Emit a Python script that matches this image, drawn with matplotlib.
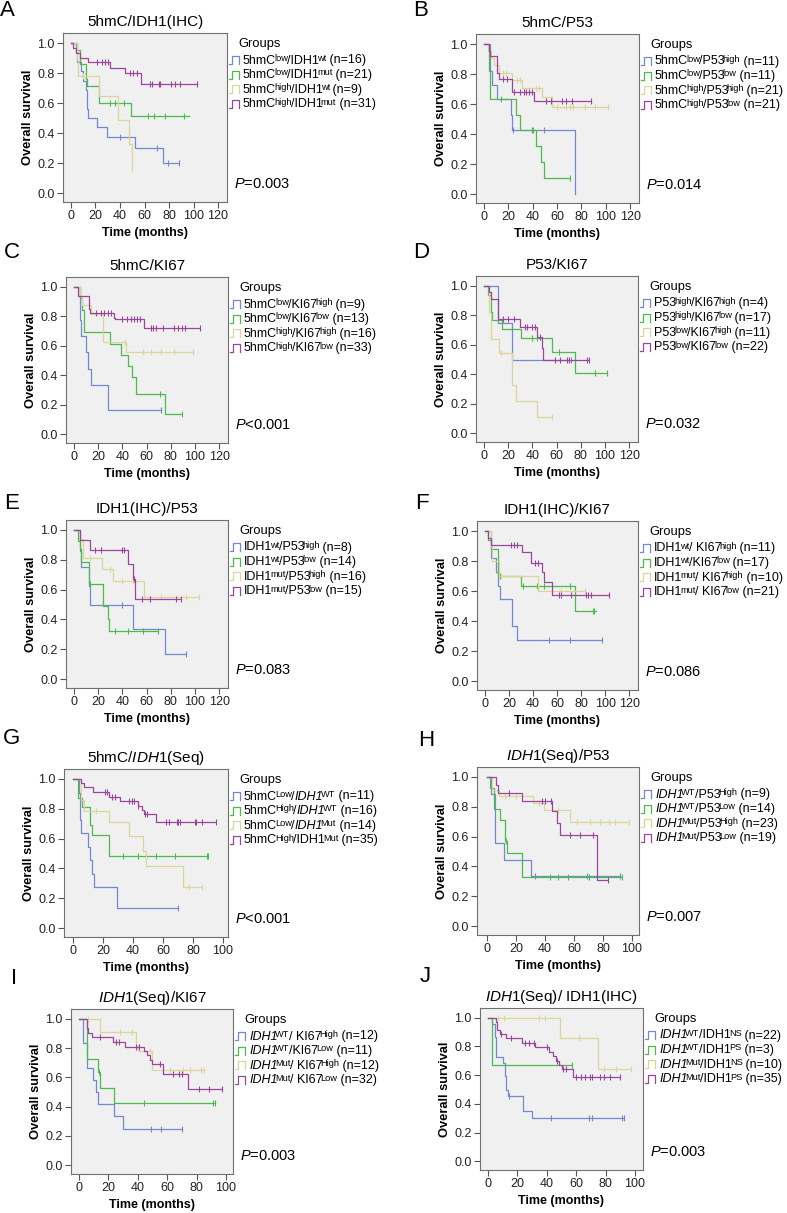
import matplotlib
matplotlib.use('Agg')
import matplotlib.pyplot as plt
from matplotlib.lines import Line2D

plt.rcParams['font.family'] = ['Liberation Sans', 'DejaVu Sans']
plt.rcParams['mathtext.fontset'] = 'custom'
plt.rcParams['mathtext.rm'] = 'Liberation Sans'
plt.rcParams['mathtext.it'] = 'Liberation Sans:italic'
plt.rcParams['mathtext.bf'] = 'Liberation Sans:bold'

W, H = 787, 1213
colors = ['#7389cf', '#4dba4d', '#dcd59a', '#9a469a']

# ---- data: event times (t), survival after each event (s), censor times (c), end of follow-up
A_t = [[4, 5, 8, 9.5, 12, 13, 14, 21, 29, 52, 75],
       [5, 7, 12, 13, 23, 49],
       [5, 6, 23, 38, 47, 50],
       [2, 4, 7.5, 14, 32, 44, 57.5]]
A_s = [[0.938, 0.875, 0.813, 0.75, 0.688, 0.563, 0.5, 0.438, 0.375, 0.30, 0.20],
       [0.952, 0.857, 0.762, 0.714, 0.60, 0.514],
       [0.889, 0.778, 0.648, 0.486, 0.324, 0.162],
       [0.968, 0.935, 0.903, 0.871, 0.835, 0.80, 0.73]]
A_c = [[40, 70, 79, 88],
       [32, 36, 43, 63, 68, 77, 92],
       [10, 50],
       [21, 25, 28, 30.5, 48, 51, 54, 64.5, 66, 72, 72.7, 82, 85, 89, 103]]
A_end = [88, 96, 50, 103]

B_t = [[5, 7, 11, 22, 23, 75],
       [4, 5, 26, 30, 43, 47, 49],
       [3, 6, 8, 12, 23, 31, 48, 56],
       [4, 5, 11, 12, 23, 41]]
B_s = [[0.818, 0.727, 0.636, 0.53, 0.424, 0.0],
       [0.818, 0.636, 0.53, 0.424, 0.318, 0.212, 0.106],
       [0.952, 0.905, 0.857, 0.81, 0.76, 0.71, 0.645, 0.58],
       [0.952, 0.92, 0.81, 0.77, 0.68, 0.62]]
B_c = [[23.6, 39.4, 49],
       [14, 40, 71],
       [16, 18, 27, 30, 43, 45, 60, 67, 71, 73, 83, 91, 102],
       [16, 19, 24.5, 30, 33, 34.5, 37, 39.5, 51, 55, 64, 67, 72, 88]]
B_end = [75, 71, 102, 88]

C_t = [[5, 6, 10, 12, 14, 28],
       [5, 6.5, 8, 30, 39, 45, 48, 51, 75],
       [5, 7, 14, 24, 43],
       [3.3, 12.8, 13.5, 33, 34, 57.6]]
C_s = [[0.778, 0.667, 0.556, 0.444, 0.333, 0.167],
       [0.923, 0.846, 0.692, 0.615, 0.538, 0.462, 0.385, 0.27, 0.135],
       [0.938, 0.875, 0.813, 0.625, 0.556],
       [0.94, 0.85, 0.82, 0.79, 0.78, 0.72]]
C_c = [[72],
       [71, 89],
       [42, 57, 64, 72, 83, 98],
       [18, 22, 25, 28, 30.4, 40, 44, 47, 49.5, 52, 55, 64, 65.5, 68, 74, 83, 86, 89, 91.5, 104]]
C_end = [72, 89, 98, 104]

D_t = [[12, 23],
       [3, 5.5, 7, 15, 31, 56, 75],
       [4, 5.5, 12.3, 23, 26.7, 43.7],
       [4, 5.5, 12, 30, 43.7, 47.8, 49]]
D_s = [[0.75, 0.5],
       [0.941, 0.824, 0.765, 0.706, 0.647, 0.55, 0.41],
       [0.818, 0.636, 0.545, 0.327, 0.218, 0.109],
       [0.955, 0.909, 0.773, 0.72, 0.65, 0.58, 0.50]]
D_c = [[72],
       [40, 44, 62, 92, 102],
       [14, 56],
       [16, 20, 24.6, 34, 35.5, 40, 42, 46, 59, 63, 68.5, 70, 85, 87]]
D_end = [72, 102, 56, 87]

E_t = [[5.4, 6.3, 12.5, 13.6, 49, 75.5],
       [3.3, 5.4, 6, 12.3, 24, 27.8, 29.4],
       [5.4, 7.6, 23, 32, 57.8],
       [5.4, 13.6, 45, 48.5, 50.4]]
E_s = [[0.875, 0.75, 0.625, 0.5, 0.333, 0.167],
       [0.929, 0.857, 0.786, 0.637, 0.49, 0.40, 0.32],
       [0.938, 0.81, 0.74, 0.66, 0.55],
       [0.933, 0.867, 0.77, 0.67, 0.54]]
E_c = [[40, 93],
       [13, 34, 45, 57, 69.5],
       [13.6, 30, 39.5, 49, 72, 92.6, 103.6],
       [17.7, 22.6, 39.5, 41.4, 49.5, 56.5, 63, 84.5, 88.6]]
E_end = [93, 69.5, 103.6, 88.6]

F_t = [[4.9, 9, 11, 13, 23, 27],
       [2.7, 4.9, 11, 30, 74.7],
       [4.9, 6.2, 12, 44],
       [2.7, 4.9, 31, 38.6, 47.5, 49, 55.7]]
F_s = [[0.818, 0.727, 0.636, 0.545, 0.364, 0.273],
       [0.941, 0.882, 0.70, 0.635, 0.47],
       [0.9, 0.8, 0.7, 0.6],
       [0.952, 0.905, 0.857, 0.79, 0.73, 0.66, 0.575]]
F_c = [[53, 71, 97],
       [12.3, 31.5, 43.7, 49, 70.7, 89.5, 91],
       [13.6, 63.6, 83],
       [21.7, 24.5, 27, 42, 44.4, 62, 63.4, 71.6, 84, 85.5, 88, 103]]
F_end = [97, 92, 83, 103]

G_t = [[4.2, 4.9, 5.5, 9.7, 11.5, 12.6, 13.7, 29],
       [3, 6, 11.5, 12.5, 23.7],
       [5.5, 7, 23.7, 37.6, 46.5, 48.5, 73],
       [5.5, 7, 13, 23.7, 31.4, 43, 46, 47, 55]]
G_s = [[0.909, 0.727, 0.636, 0.545, 0.455, 0.364, 0.273, 0.136],
       [0.875, 0.813, 0.688, 0.625, 0.486],
       [0.857, 0.786, 0.714, 0.619, 0.516, 0.413, 0.275],
       [0.971, 0.943, 0.914, 0.882, 0.85, 0.82, 0.79, 0.765, 0.71]]
G_c = [[70],
       [33, 43.5, 48.4, 55.5, 68, 89, 90],
       [15, 77, 86],
       [21.5, 22.5, 26, 28, 37, 39, 40.5, 43.5, 48, 49, 62, 64, 69, 70, 71, 81, 82, 86, 95]]
G_end = [70, 90, 86, 95]

H_t = [[3, 5.7, 11.4, 30],
       [2.3, 5, 9, 12.6, 13.7, 24],
       [3.4, 8, 32, 39, 57],
       [6.4, 7.3, 24, 45, 48, 50, 75.5]]
H_s = [[0.889, 0.556, 0.444, 0.333],
       [0.929, 0.786, 0.714, 0.571, 0.49, 0.327],
       [0.913, 0.87, 0.826, 0.78, 0.695],
       [0.947, 0.895, 0.84, 0.77, 0.69, 0.61, 0.31]]
H_c = [[33, 69, 91.5],
       [13.3, 43.5, 49, 56, 70, 93],
       [12.5, 20, 36, 49, 62, 71, 78, 84, 88, 98],
       [15, 37.8, 40, 44, 57, 64, 73, 83.5]]
H_end = [91.5, 93, 98, 83.5]

I_t = [[3, 5.7, 9.8, 11.6, 13.2, 24, 30],
       [5.7, 13, 14.3, 24],
       [14, 39, 40, 50],
       [5.7, 6.4, 8.6, 23.4, 31, 44, 46, 48.4, 49.5, 57.5, 74.5]]
I_s = [[0.833, 0.667, 0.583, 0.5, 0.417, 0.333, 0.25],
       [0.727, 0.636, 0.53, 0.424],
       [0.909, 0.818, 0.779, 0.649],
       [0.938, 0.906, 0.875, 0.84, 0.81, 0.78, 0.75, 0.72, 0.69, 0.625, 0.52]]
I_c = [[49, 56, 70],
       [13.7, 44, 91, 92.5],
       [6.4, 28, 36, 48, 57.5, 62, 70.5, 75.5, 83, 85],
       [14.5, 25, 27, 39, 41, 55, 64, 68, 70, 82, 88.5, 97]]
I_end = [70, 92.5, 85, 97]

J_t = [[3, 4.5, 5.2, 10.2, 11.4, 12, 13.6, 24, 30],
       [3],
       [49, 75],
       [5.2, 6.1, 8, 12.5, 23.4, 32, 41.6, 44, 46.6, 48.4, 50, 57.5]]
J_s = [[0.955, 0.864, 0.727, 0.682, 0.591, 0.5, 0.455, 0.35, 0.30],
       [0.667],
       [0.857, 0.643],
       [0.971, 0.914, 0.886, 0.857, 0.826, 0.795, 0.762, 0.73, 0.70, 0.672, 0.64, 0.585]]
J_c = [[14, 43, 69, 71, 91, 92.7],
       [57],
       [7, 11, 35, 39, 62, 79, 87, 97],
       [9, 16, 25, 28, 31, 40, 47, 51, 53, 60, 63, 66, 69.5, 70.5, 76, 79, 83, 89.5]]
J_end = [92.7, 57, 97, 89.5]

titles = ['5hmC/IDH1(IHC)', '5hmC/P53', '5hmC/KI67', 'P53/KI67', 'IDH1(IHC)/P53',
          'IDH1(IHC)/KI67', r'5hmC/$\mathit{IDH1}$(Seq)', r'$\mathit{IDH1}$(Seq)/P53',
          r'$\mathit{IDH1}$(Seq)/KI67', r'$\mathit{IDH1}$(Seq)/ IDH1(IHC)']
pvals = ['=0.003', '=0.014', '<0.001', '=0.032', '=0.083', '=0.086', '<0.001',
         '=0.007', '=0.003', '=0.003']
letters = ['A', 'B', 'C', 'D', 'E', 'F', 'G', 'H', 'I', 'J']

# legend labels: ^...^ marks a superscript, ~...~ marks italic
labels = [
    ['5hmC^low^/IDH1^wt^ (n=16)', '5hmC^low^/IDH1^mut^ (n=21)',
     '5hmC^high^/IDH1^wt^ (n=9)', '5hmC^high^/IDH1^mut^ (n=31)'],
    ['5hmC^low^/P53^high^ (n=11)', '5hmC^low^/P53^low^ (n=11)',
     '5hmC^high^/P53^high^ (n=21)', '5hmC^high^/P53^low^ (n=21)'],
    ['5hmC^low^/KI67^high^ (n=9)', '5hmC^low^/KI67^low^ (n=13)',
     '5hmC^high^/KI67^high^ (n=16)', '5hmC^high^/KI67^low^ (n=33)'],
    ['P53^high^/KI67^high^ (n=4)', 'P53^high^/KI67^low^ (n=17)',
     'P53^low^/KI67^high^ (n=11)', 'P53^low^/KI67^low^ (n=22)'],
    ['IDH1^wt^/P53^high^ (n=8)', 'IDH1^wt^/P53^low^ (n=14)',
     'IDH1^mut^/P53^high^ (n=16)', 'IDH1^mut^/P53^low^ (n=15)'],
    ['IDH1^wt^/ KI67^high^ (n=11)', 'IDH1^wt^/KI67^low^ (n=17)',
     'IDH1^mut^/ KI67^high^ (n=10)', 'IDH1^mut^/ KI67^low^ (n=21)'],
    ['5hmC^Low^/~IDH1~^WT^ (n=11)', '5hmC^High^/~IDH1~^WT^ (n=16)',
     '5hmC^Low^/~IDH1~^Mut^ (n=14)', '5hmC^High^/IDH1^Mut^ (n=35)'],
    ['~IDH1~^WT^/P53^High^ (n=9)', '~IDH1~^WT^/P53^Low^ (n=14)',
     '~IDH1~^Mut^/P53^High^ (n=23)', '~IDH1~^Mut^/P53^Low^ (n=19)'],
    ['~IDH1~^WT^/ KI67^High^ (n=12)', '~IDH1~^WT^/KI67^Low^ (n=11)',
     '~IDH1~^Mut^/ KI67^High^ (n=12)', '~IDH1~^Mut^/ KI67^Low^ (n=32)'],
    ['~IDH1~^WT^/IDH1^NS^ (n=22)', '~IDH1~^WT^/IDH1^PS^ (n=3)',
     '~IDH1~^Mut^/IDH1^NS^ (n=10)', '~IDH1~^Mut^/IDH1^PS^ (n=35)'],
]

all_t = [A_t, B_t, C_t, D_t, E_t, F_t, G_t, H_t, I_t, J_t]
all_s = [A_s, B_s, C_s, D_s, E_s, F_s, G_s, H_s, I_s, J_s]
all_c = [A_c, B_c, C_c, D_c, E_c, F_c, G_c, H_c, I_c, J_c]
all_end = [A_end, B_end, C_end, D_end, E_end, F_end, G_end, H_end, I_end, J_end]

# layout in pixels: left, right, top, bottom of each plot box
rects = [(63, 227, 33, 202), (476, 639, 34, 203),
         (66, 228, 277, 443), (476, 638, 276, 442),
         (66, 228, 520, 688), (477, 638, 521, 690),
         (64, 228, 769, 937), (477, 639, 767, 935),
         (71, 233, 1009, 1174), (480, 643, 1008, 1170)]
xlims = [(-6.5, 127.3)] * 6 + [(-6, 103.3), (-6.9, 104.8), (-5.4, 104.8), (-5.4, 105.4)]
letter_pos = [(7, 11), (421, 11), (12, 253), (421, 253), (12, 504), (422, 504),
              (12, 739), (426, 740), (14, 978), (425, 977)]


def surv_at(t, s, x):
    v = 1.0
    for ti, si in zip(t, s):
        if ti <= x:
            v = si
    return v


def fx(x):
    return x / W


def fy(y):
    return 1 - y / H


def split_markup(m):
    parts, cur, sp, it = [], '', False, False
    for ch in m:
        if ch in '^~':
            if cur:
                parts.append((cur, sp, it))
            cur = ''
            if ch == '^':
                sp = not sp
            else:
                it = not it
        else:
            cur += ch
    if cur:
        parts.append((cur, sp, it))
    return parts


def rich_text(ax, x, y, markup, size):
    # chain text pieces left to right; superscripts smaller and raised
    first = prev = None
    for txt, sp, it in split_markup(markup):
        fs = size * 0.74 if sp else size
        style = 'italic' if it else 'normal'
        if first is None:
            first = prev = ax.figure.text(x, y, txt, fontsize=fs, fontstyle=style,
                                          ha='left', va='bottom')
        else:
            prev = ax.annotate(txt, xy=(1, 0), xycoords=(prev, first),
                               xytext=(-1.6 if sp else -0.3, 2.6 if sp else 0),
                               textcoords='offset points',
                               fontsize=fs, fontstyle=style, ha='left', va='bottom',
                               annotation_clip=False)


fig = plt.figure(figsize=(W / 100, H / 100), dpi=100)
fig.patch.set_facecolor('white')

for k in range(10):
    l, r, top, bot = rects[k]
    ax = fig.add_axes([fx(l), fy(bot), (r - l) / W, (bot - top) / H])
    ax.set_facecolor('#f0f0f0')
    for t, s, c, e, col in zip(all_t[k], all_s[k], all_c[k], all_end[k], colors):
        xs = [0] + t + [e]
        ys = [1.0] + s + [s[-1]]
        ax.step(xs, ys, where='post', color=col, lw=0.9)
        ax.plot(c, [surv_at(t, s, x) for x in c], ls='none', marker='|',
                ms=4, mew=0.8, color=col)
    ax.set_xlim(*xlims[k])
    ax.set_ylim(-0.06, 1.067)
    ax.set_xticks(range(0, 121, 20) if k < 6 else range(0, 101, 20))
    ax.set_yticks([0, 0.2, 0.4, 0.6, 0.8, 1.0])
    ax.set_yticklabels(['0.0', '0.2', '0.4', '0.6', '0.8', '1.0'])
    ax.tick_params(direction='out', length=4, width=0.8, color='#555555',
                   labelsize=9, pad=2, labelcolor='#222222')
    for sp in ax.spines.values():
        sp.set_color('#707070')
        sp.set_linewidth(0.8)
    ax.set_ylabel('Overall survival', fontsize=9.3, fontweight='bold')
    ax.yaxis.label.set_va('center')
    ax.yaxis.set_label_coords(-35 / (r - l), 0.5)
    ax.set_xlabel('Time (months)', fontsize=9, fontweight='bold')
    ax.xaxis.label.set_va('center')
    ax.xaxis.set_label_coords(0.5, -31 / (bot - top))

    # title
    fig.text(fx((l + r) / 2), fy(top - 11), titles[k], fontsize=11,
             ha='center', va='center')
    # panel letter
    fig.text(fx(letter_pos[k][0]), fy(letter_pos[k][1]), letters[k],
             fontsize=16, ha='center', va='center')

    # legend
    y1 = top + 10
    fig.text(fx(r + 11), fy(y1 + 1), 'Groups', fontsize=9.3, ha='left', va='center')
    for i, (lab, col) in enumerate(zip(labels[k], colors)):
        yy = y1 + 17 + i * 14.6
        x0 = r + 2
        fig.add_artist(Line2D([fx(x0), fx(x0 + 3), fx(x0 + 3), fx(x0 + 10), fx(x0 + 10)],
                              [fy(yy + 4), fy(yy + 4), fy(yy - 4), fy(yy - 4), fy(yy + 4)],
                              color=col, lw=0.9))
        rich_text(ax, fx(r + 16), fy(yy + 6.5), lab, 9)

    # p value
    fig.text(fx(r + 7), fy(bot - 18), r'$\mathit{P}$' + pvals[k], fontsize=10.5,
             ha='left', va='center')

fig.savefig('out.png', dpi=100)
